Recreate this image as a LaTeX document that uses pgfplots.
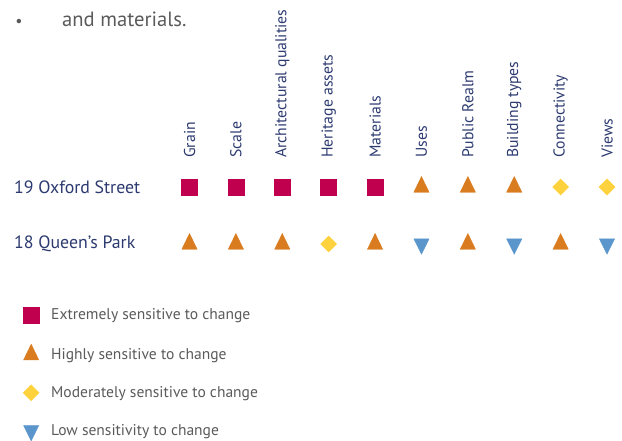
\documentclass[border=0pt]{standalone}
\usepackage{pgfplots}
\pgfplotsset{compat=1.18}
\usepackage{fontspec}
\setmainfont{PT Sans}
\definecolor{navy}{HTML}{2C3A70}
\definecolor{txtgrey}{HTML}{5A5A5A}
\definecolor{crim}{HTML}{C0004F}
\definecolor{orng}{HTML}{D97B1F}
\definecolor{yell}{HTML}{FDD23C}
\definecolor{blu}{HTML}{5A96CC}
\begin{document}
\begin{tikzpicture}
\begin{axis}[
  width=622bp, height=437bp, scale only axis,
  xmin=-4.085, xmax=9.323, ymin=-3.386, ymax=4.2807,
  axis lines=none, ticks=none, clip=false,
  legend cell align=left,
  legend style={draw=none, fill=none, at={(axis cs:-3.611,-1.088)}, anchor=north west,
    font=\fontsize{15.6}{17}\selectfont, text=txtgrey,
    row sep=20bp, inner sep=0pt,
    nodes={inner sep=0pt},
    /tikz/every odd column/.append style={column sep=11bp}},
  legend image code/.code={\path[draw=none,fill=none] (-9bp,-9bp) rectangle (9bp,9bp); \draw[#1] plot coordinates {(0bp,0bp)};},
]
\path[draw=none] (rel axis cs:0,0) rectangle (rel axis cs:1,1);
\addplot[only marks, mark=square*, mark size=8bp, color=crim] coordinates {
  (0,1) (1,1) (2,1) (3,1) (4,1)};
\addlegendentry{Extremely sensitive to change}
\addplot[only marks, mark=triangle*, mark size=10.5bp, mark options={xscale=0.84}, color=orng] coordinates {
  (5,1) (6,1) (7,1) (0,0) (1,0) (2,0) (4,0) (6,0) (8,0)};
\addlegendentry{Highly sensitive to change}
\addplot[only marks, mark=square*, mark size=5.66bp, mark options={rotate=45}, color=yell] coordinates {
  (8,1) (9,1) (3,0)};
\addlegendentry{Moderately sensitive to change}
\addplot[only marks, mark=triangle*, mark size=10.2bp, mark options={rotate=180, xscale=0.86}, color=blu] coordinates {
  (5,0) (7,0) (9,0)};
\addlegendentry{Low sensitivity to change}
% category labels
\foreach \lab [count=\i from 0] in {Grain,Scale,Architectural qualities,Heritage assets,Materials,Uses,Public Realm,Building types,Connectivity,Views}{
  \edef\tmp{\noexpand\node[rotate=90, anchor=west, inner sep=0pt, text=navy, font=\noexpand\fontsize{15.8}{17}\noexpand\selectfont] at (axis cs:\i,1.51) {\lab};}
  \tmp
}
\node[anchor=west, inner sep=0pt, text=navy, font=\fontsize{17.9}{20}\selectfont] at (axis cs:-3.783,1) {19 Oxford Street};
\node[anchor=west, inner sep=0pt, text=navy, font=\fontsize{17.9}{20}\selectfont] at (axis cs:-3.783,0) {18 Queen’s Park};
\node[anchor=base west, inner sep=0pt, text=txtgrey, font=\fontsize{20.7}{24}\selectfont] at (axis cs:-2.748,3.807) {and materials.};
\node[anchor=base west, inner sep=0pt, text=txtgrey, font=\fontsize{16}{24}\selectfont] at (axis cs:-3.76,3.82) {•};
\end{axis}
\end{tikzpicture}
\end{document}
